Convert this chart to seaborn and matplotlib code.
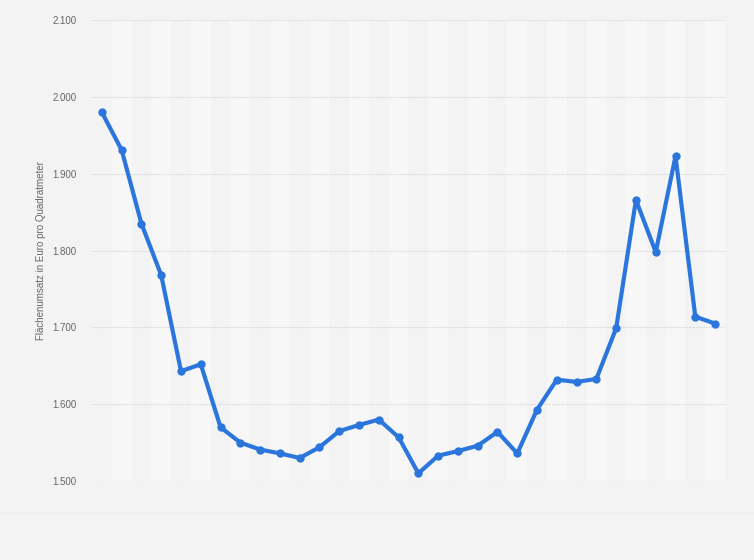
import numpy as np
import pandas as pd
import seaborn as sns
import matplotlib.pyplot as plt

# Data (no x labels shown, 32 periods)
periods = list(range(1, 33))
umsatz = [1980, 1931, 1835, 1768, 1643, 1652, 1570, 1550, 1541, 1536,
          1530, 1544, 1565, 1573, 1580, 1557, 1510, 1533, 1539, 1546,
          1564, 1536, 1593, 1632, 1629, 1633, 1699, 1866, 1798, 1923,
          1714, 1705]
y_ticks = [1500, 1600, 1700, 1800, 1900, 2000, 2100]
y_label = "Flächenumsatz in Euro pro Quadratmeter"

df = pd.DataFrame({"pos": np.arange(len(periods)), "umsatz": umsatz})

sns.set_style("white")
plt.rcParams["font.family"] = ["Liberation Sans", "DejaVu Sans"]

fig = plt.figure(figsize=(7.54, 5.6), dpi=100, facecolor="#f3f3f3")
ax = fig.add_axes([0.122, 0.141, 0.8395, 0.823])
ax.set_facecolor("#f3f3f3")

# alternating column bands
for i in range(len(periods)):
    if i % 2 == 1:
        ax.axvspan(i - 0.5, i + 0.5, color="#f7f7f7", lw=0, zorder=0)

sns.lineplot(data=df, x="pos", y="umsatz", ax=ax, color="#2b76dc",
             linewidth=3, marker="o", markersize=6,
             markeredgewidth=0, zorder=3)

ax.set_xlim(-0.5, len(periods) - 0.5)
ax.set_ylim(y_ticks[0], y_ticks[-1])
ax.set_yticks(y_ticks)
ax.set_yticklabels([f"{v / 1000:.3f}" for v in y_ticks])
ax.set_xticks([])
ax.yaxis.grid(True, color="#d2d2d2", linestyle=(0, (1, 1.2)), linewidth=0.8)
ax.set_axisbelow(True)
for s in ax.spines.values():
    s.set_visible(False)
ax.tick_params(axis="y", length=0, pad=11, labelsize=7, labelcolor="#666666")
ax.set_xlabel("")
ax.set_ylabel(y_label, fontsize=7, color="#666666", labelpad=5)

# faint footer divider
fig.add_artist(plt.Line2D([0, 1], [0.086, 0.086], color="#efefef", lw=0.8))

fig.savefig("out.png", dpi=100, facecolor=fig.get_facecolor())
